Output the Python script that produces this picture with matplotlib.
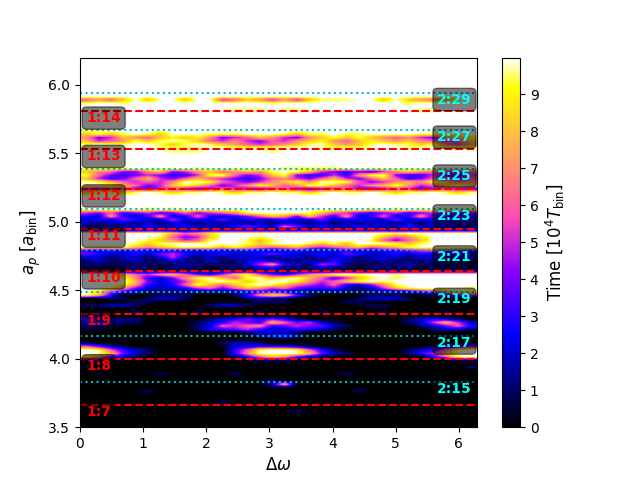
import numpy as np
import matplotlib
matplotlib.use("Agg")
import matplotlib.pyplot as plt

# ---------------- data ----------------
# Survival time map [10^4 T_bin], rows from top (a_p = 6.2) to bottom (a_p = 3.5),
# 32 columns spanning Delta omega 0..2pi.
# digits = time value, 'a' = 9.5 (pale yellow), 'X' = survived full run (9.99).
time_rows = [
    "XXXX XXXX XXXX XXXX XXXX XXXX XXXX XXXX",  # 0
    "XXXX XXXX XXXX XXXX XXXX XXXX XXXX XXXX",
    "XXXX XXXX XXXX XXXX XXXX XXXX XXXX XXXX",
    "XXXX XXXX XXXX XXXX XXXX XXXX XXXX XXXX",
    "XXXX XXXX XXXX XXXX XXXX XXXX XXXX XXXX",
    "XXXX XXXX XXXX XXXX XXXX XXXX XXXX XXXX",  # 5
    "XXXX XXXX XXXX XXXX XXXX XXXX XXXX XXXX",
    "XXXX XXXX XXXX XXXX XXXX XXXX XXXX XXXX",
    "XXXX XXXX XXXX XXXX XXXX XXXX XXXX XXXX",
    "XXXX XXXX XXXX XXXX XXXX XXXX XXXX XXXX",
    "XXXX XXXX XXXX XXXX XXXX XXXX XXXX XXXX",  # 10
    "XXXX XXXX XXXX XXXX XXXX XXXX XXXX XXXX",
    "6768 X8XX 8XX5 6875 758a aaXX 8X87 67aX",
    "aXXa XXXX XXXX XXXa XXXX XXXX XXaX XXXX",
    "XXXX XXXX XXXX XXXX XXXX XXXX XXXX XXXX",
    "XXXX XXXX XXXX aaaX aaXX XXXX XXXa aXXX",  # 15
    "XXXX XXXX XXXX XXXX XXXX XXXX XXXX XXXX",
    "XXXX XXXX XXXX XXXX XXXX XXXX XXXX XXXX",
    "XXXX XXXX XXXX XXXX XXXX XXXX XXXX XXXX",
    "XXXX XXXX XXXX XXXX XXXX XXXX XXXX XXXX",
    "XXXX XXXX XXXX XXXX XXXX XXXX XXXX XXXX",  # 20
    "aaXX XXXX XXXX XXXX XXXX XXXX XXXX XXXX",
    "8a8a Xa8X XXaa aXXX a8aa XaaX XXXa aaXX",
    "7458 7689 8974 5687 5478 a8a8 7675 4789",
    "8567 a8aX a865 7546 5789 7689 8787 6568",
    "aXaa XXa8 aXa8 7656 78aX 878a Xaa8 a657",  # 25
    "aaXX XXaa aaXX aaaa XXXa aaaX XXaX Xaaa",
    "XXXX XXXa aaXX XXXa XXXX XXXX XXXX XXXX",
    "XXXX XXXX XXXX XXXX XXXX XXXX XXXX XXXX",
    "XXXX XXXX XXXX XXXX XXXX XXXX XXXX XXXX",
    "XXXX XXXX XXXX XXXX XXXX XXXX XXXX XXXX",  # 30
    "XXXX XXXX XXXX XXXX XXXX XXXX XXXX XXXX",
    "aaaa XXXX XXXX XXXX aaaa aXXX XXXX XXXX",
    "8764 4784 5786 787a Xa85 4343 5787 6546",
    "a643 4543 35aX 6458 a433 537a X433 5435",
    "8534 6854 6865 4346 7546 8546 8634 6546",  # 35
    "Xa86 5657 XXa6 5457 8a7X Xa64 5787 a867",
    "aXa8 6458 a864 57a8 67aa 8657 8a75 68a8",
    "5456 4356 4346 5435 6434 5643 4653 4543",
    "8aa8 aXa8 aaXa 8aaX aa8a XaaX a8aa Xa8a",
    "XXXX XXXX XXXX XXXX XXXX XXXX XXXX XXXX",  # 40
    "XXXX XXXX XXXX XXXX XXXX XXXX XXXX XXXX",
    "XXXX XXXX XXXX XXXX XXXX XXXX XXXX XXXX",
    "XXXX XXXX XXXX XXXX XXXX XXXX XXXX XXXX",
    "aXaX XaXa XXXX XXXX XXXX XXXa XaXa XaXa",
    "5463 4534 6456 7aXX XXa8 6543 4534 5434",  # 45
    "3273 2372 3632 3468 7485 3723 6237 3233",
    "2324 3225 2324 2322 3224 2232 2422 3242",
    "2122 1212 2121 2121 2212 1212 2121 2212",
    "2232 2322 3222 3432 6423 2232 2232 2322",
    "1111 1111 1111 1111 1111 1111 1111 1111",  # 50
    "XXXX XXX8 679X XXXX XXXX XXXX XaXX XXXX",
    "XXXX XXa6 458X XXaX XXXX XXXX 8679 XXXX",
    "XXXX Xa87 56aX Xa8a XXXX XXXa 6468 XXXX",
    "XXXX a8aX XXXX Xa8a XXa8 a8XX Xa8a XXXX",
    "XaaX 8789 Xaa8 a876 7865 6786 78aX XXXX",  # 55
    "3232 3223 2232 2322 2322 2322 3345 6543",
    "4322 3245 3223 2234 3223 2432 2323 2232",
    "2212 2125 2121 2221 2212 2212 2212 2122",
    "1211 2112 1121 1232 1121 3211 2111 2111",
    "1111 1111 2111 1257 3215 4111 1121 1111",  # 60
    "1101 1101 1101 1123 1112 1101 1110 1111",
    "1111 1111 1111 1111 1111 1111 1111 1111",
    "XXa8 6578 6435 8a64 3578 aXaX XaXX XXXX",
    "XXXa 7324 7aX8 6aX8 aX86 358a XaXX XXXX",
    "XXXX 8423 58aX a8aX X975 68aX aXXX XXXX",  # 65
    "XXXa 7323 6a86 8aXa 8654 6324 7aXX XXXX",
    "XXa7 4222 3564 6875 6433 4212 58aX XXXa",
    "X953 2111 1111 1233 2111 1111 1123 58aa",
    "X830 0011 1000 1379 8410 0001 1100 1345",
    "0011 0122 1000 0121 1000 0012 2210 0000",  # 70
    "0000 1100 0000 0011 1000 0110 0000 0000",
    "1122 1000 0012 2100 0000 0001 1000 0000",
    "0000 0000 0000 0000 0000 0000 0000 0000",
    "0100 1000 0100 0010 0001 0000 1000 0100",
    "1100 0000 0000 0000 0000 0000 0000 0000",  # 75
    "4321 1000 0012 3434 3100 0000 0012 3210",
    "3321 1000 0123 5438 6452 1000 0012 5852",
    "2210 0000 0126 5673 4544 2100 0001 2463",
    "1100 0000 0133 4532 2332 1000 0000 1221",
    "0000 0000 0000 0122 2100 0000 0000 0000",  # 80
    "0000 0000 0000 0012 3100 0000 0000 0000",
    "0000 0000 0000 0000 0000 0000 0000 0000",
    "1000 0000 0001 2210 0000 0000 0000 0001",
    "6421 0000 0000 2233 3210 0000 0000 1234",
    "Xa63 2100 0000 36aX Xa63 1000 0012 36aX",  # 85
    "XX84 2100 0000 37XX XX84 2100 0013 58XX",
    "a742 1000 0000 1368 7421 0000 0000 36aX",
    "1100 0000 0000 0011 1000 0000 0000 0011",
    "0000 0000 0000 0000 0000 0000 0000 0000",
    "1000 0000 0000 0000 0000 0000 0000 0001",  # 90
    "0000 0000 0000 0000 0000 0000 0000 0000",
    "0100 0010 0000 1000 0000 0100 0000 0000",
    "0000 0000 0000 0000 0000 0000 0000 0000",
    "0000 0000 0000 0001 0000 0000 0000 0000",
    "0000 0000 0000 0002 8000 0000 0000 0000",  # 95
    "0000 0000 0000 0000 0000 0000 0000 0000",
    "0000 0100 0000 0000 0000 0010 0000 0000",
    "0000 0000 0000 0000 0000 0000 0000 0000",
    "0000 0000 0000 0000 0000 0000 0000 0000",
    "0000 0000 0001 0000 0000 0000 0000 0000",  # 100
    "0000 0000 0000 0000 0000 0000 0000 0000",
    "0000 0000 0000 0000 0000 0000 0000 0000",
    "0000 0000 0000 0000 0100 0000 0000 0000",
    "0000 0000 0000 0000 0000 0000 0000 0000",
    "0000 0000 0000 0000 0000 0000 0000 0000",  # 105
    "0000 0000 0000 0000 0000 0000 0000 0000",
    "0000 0000 0000 0000 0000 0000 0000 0000",
]
full_time = 9.99   # value for 'X' (survived)
pale_time = 9.5    # value for 'a'

res1_labels = ["1:7", "1:8", "1:9", "1:10", "1:11", "1:12", "1:13", "1:14"]
res1_a = [3.659, 4.000, 4.327, 4.642, 4.946, 5.241, 5.529, 5.809]
res2_labels = ["2:15", "2:17", "2:19", "2:21", "2:23", "2:25", "2:27", "2:29"]
res2_a = [3.832, 4.166, 4.485, 4.795, 5.095, 5.386, 5.670, 5.945]

cbar_ticks = [0, 1, 2, 3, 4, 5, 6, 7, 8, 9]

a_min, a_max = 3.5, 6.2
dw_min, dw_max = 0.0, 2 * np.pi

# ---------------- build grid ----------------
def parse_cell(c):
    if c == "X":
        return full_time
    if c == "a":
        return pale_time
    return float(c)

Z = np.array([[parse_cell(c) for c in r.replace(" ", "")] for r in time_rows])

# ---------------- plot ----------------
fig, ax = plt.subplots(figsize=(6.4, 4.8), dpi=100)
im = ax.imshow(Z, cmap="gnuplot2", aspect="auto", interpolation="bilinear",
               extent=[dw_min, dw_max, a_min, a_max], origin="upper",
               vmin=0, vmax=full_time)

for lab, a in zip(res1_labels, res1_a):
    ax.axhline(a, color="r", ls="--", lw=1.5)
    ax.text(0.1, a, lab, color="red", fontsize=10, fontweight="bold",
            ha="left", va="top",
            bbox=dict(boxstyle="round", facecolor="black", alpha=0.5))
for lab, a in zip(res2_labels, res2_a):
    ax.axhline(a, color="c", ls=":", lw=1.5)
    ax.text(0.9 * dw_max, a, lab, color="cyan", fontsize=10, fontweight="bold",
            ha="left", va="top",
            bbox=dict(boxstyle="round", facecolor="black", alpha=0.5))

ax.set_xlim(dw_min, dw_max)
ax.set_ylim(a_min, a_max)
ax.set_xlabel(r"$\Delta\omega$", fontsize=12)
ax.set_ylabel(r"$a_p$ [$a_{\rm bin}$]", fontsize=12)

cb = fig.colorbar(im, ax=ax)
cb.set_ticks(cbar_ticks)
cb.set_label(r"Time [$10^4 T_{\rm bin}$]", fontsize=12)

fig.savefig("out.png", dpi=100)
